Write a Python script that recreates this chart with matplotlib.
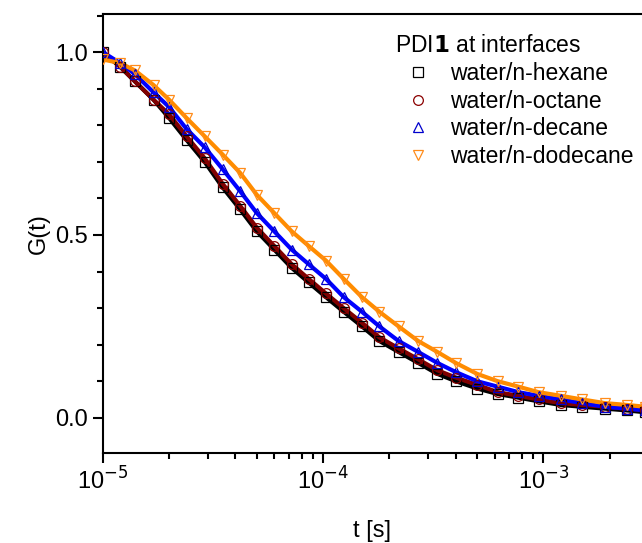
import numpy as np
import matplotlib.pyplot as plt
from matplotlib.ticker import MultipleLocator, FixedLocator

plt.rcParams['font.family'] = ['Liberation Sans', 'DejaVu Sans']

t = [1.0e-5, 1.2e-5, 1.4e-5, 1.7e-5, 2.0e-5, 2.4e-5, 2.9e-5, 3.5e-5, 4.2e-5, 5e-5,
     6e-5, 7.2e-5, 8.6e-5, 1.03e-4, 1.24e-4, 1.5e-4, 1.8e-4, 2.2e-4, 2.7e-4, 3.3e-4,
     4e-4, 5e-4, 6.2e-4, 7.7e-4, 9.5e-4, 1.2e-3, 1.5e-3, 1.9e-3, 2.4e-3, 2.9e-3]
g_hexane = [1.0, 0.96, 0.92, 0.87, 0.82, 0.76, 0.70, 0.63, 0.57, 0.51, 0.46, 0.41, 0.37, 0.33, 0.29,
            0.25, 0.21, 0.18, 0.15, 0.12, 0.10, 0.08, 0.065, 0.055, 0.045, 0.035, 0.03, 0.025, 0.02, 0.015]
g_octane = [1.0, 0.96, 0.92, 0.87, 0.83, 0.77, 0.71, 0.64, 0.58, 0.52, 0.47, 0.42, 0.38, 0.34, 0.30,
            0.26, 0.22, 0.19, 0.16, 0.13, 0.11, 0.09, 0.07, 0.06, 0.05, 0.04, 0.035, 0.03, 0.025, 0.02]
g_decane = [1.0, 0.97, 0.94, 0.89, 0.85, 0.79, 0.74, 0.68, 0.62, 0.56, 0.51, 0.46, 0.42, 0.38, 0.33,
            0.29, 0.25, 0.21, 0.18, 0.15, 0.125, 0.10, 0.085, 0.07, 0.06, 0.05, 0.04, 0.03, 0.025, 0.02]
g_dodecane = [0.98, 0.97, 0.95, 0.91, 0.87, 0.82, 0.77, 0.72, 0.67, 0.61, 0.56, 0.51, 0.47, 0.43, 0.38,
              0.33, 0.29, 0.25, 0.21, 0.18, 0.15, 0.12, 0.10, 0.085, 0.07, 0.06, 0.05, 0.04, 0.035, 0.03]

series = [
    ('water/n-hexane', g_hexane, 's', 'black', 'black'),
    ('water/n-octane', g_octane, 'o', '#8b0000', '#800000'),
    ('water/n-decane', g_decane, '^', '#0000cc', '#0000ff'),
    ('water/n-dodecane', g_dodecane, 'v', '#ff8c1a', '#ff8c00'),
]

fig = plt.figure(figsize=(6.42, 5.43), dpi=100)
ax = fig.add_axes([0.160, 0.166, 0.84, 0.808])

for label, g, m, mc, lc in series:
    ax.plot(t, g, color=lc, lw=3, zorder=2)
    ax.plot(t, g, ls='none', marker=m, ms=7, mfc='none', mec=mc, mew=0.9,
            label=label, zorder=3)

ax.set_xscale('log')
ax.set_xlim(1e-5, 2.8e-3)
ax.set_ylim(-0.096, 1.104)
ax.yaxis.set_major_locator(FixedLocator([0.0, 0.5, 1.0]))
ax.yaxis.set_minor_locator(MultipleLocator(0.1))
ax.set_xticks([1e-5, 1e-4, 1e-3])
ax.set_xticklabels(['10$^{-5}$', '10$^{-4}$', '10$^{-3}$'])
ax.tick_params(labelsize=17, width=1.5, length=7, direction='out')
ax.tick_params(which='minor', width=1.5, length=4)
for s in ax.spines.values():
    s.set_linewidth(1.5)
ax.spines['right'].set_visible(False)
ax.set_xlabel('t [s]', fontsize=17, labelpad=18)
ax.set_ylabel('G(t)', fontsize=17)

leg = ax.legend(title=r'PDI$\bf{1}$ at interfaces', loc='upper right', frameon=False,
                fontsize=16.5, title_fontsize=16.5, handletextpad=0.4, labelspacing=0.2,
                borderaxespad=0.2, bbox_to_anchor=(1.01, 0.985))
leg._legend_box.align = 'left'

fig.savefig('out.png', dpi=100)
